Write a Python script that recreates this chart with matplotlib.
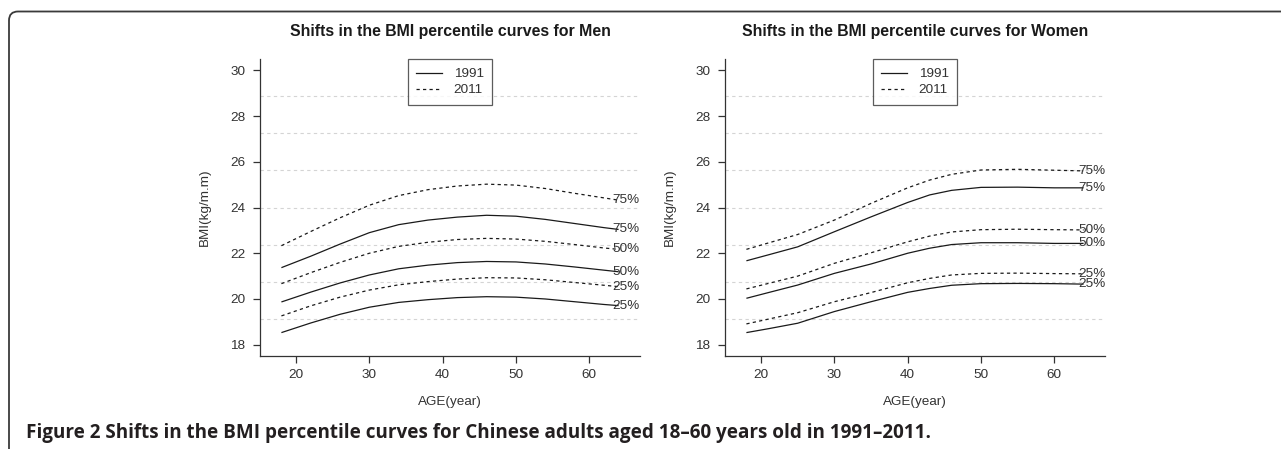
import matplotlib
matplotlib.use("Agg")
import matplotlib.pyplot as plt
from matplotlib.patches import FancyBboxPatch
from matplotlib.transforms import IdentityTransform
from matplotlib.lines import Line2D

plt.rcParams['font.family'] = ['Liberation Sans', 'DejaVu Sans']

# ---------------- data ----------------
men_age = [18, 22, 26, 30, 34, 38, 42, 46, 50, 54, 58, 62, 64]
men_1991_p75 = [21.37, 21.87, 22.40, 22.90, 23.25, 23.45, 23.58, 23.66, 23.62, 23.48, 23.30, 23.12, 23.04]
men_2011_p75 = [22.33, 22.95, 23.55, 24.10, 24.52, 24.78, 24.94, 25.02, 24.98, 24.83, 24.62, 24.42, 24.32]
men_1991_p50 = [19.87, 20.30, 20.70, 21.05, 21.32, 21.48, 21.59, 21.64, 21.62, 21.53, 21.40, 21.26, 21.19]
men_2011_p50 = [20.67, 21.15, 21.60, 22.00, 22.30, 22.48, 22.60, 22.65, 22.62, 22.52, 22.38, 22.23, 22.17]
men_1991_p25 = [18.53, 18.95, 19.33, 19.64, 19.85, 19.97, 20.06, 20.10, 20.08, 20.00, 19.88, 19.76, 19.71]
men_2011_p25 = [19.26, 19.70, 20.08, 20.39, 20.62, 20.76, 20.87, 20.93, 20.92, 20.84, 20.72, 20.60, 20.54]

women_age = [18, 21, 25, 30, 35, 40, 43, 46, 50, 55, 60, 64]
women_1991_p75 = [21.67, 21.93, 22.28, 22.94, 23.59, 24.22, 24.55, 24.75, 24.88, 24.89, 24.86, 24.86]
women_2011_p75 = [22.17, 22.45, 22.82, 23.45, 24.18, 24.86, 25.20, 25.45, 25.64, 25.67, 25.63, 25.60]
women_1991_p50 = [20.03, 20.28, 20.61, 21.12, 21.53, 22.00, 22.22, 22.38, 22.46, 22.46, 22.43, 22.43]
women_2011_p50 = [20.44, 20.68, 21.00, 21.56, 22.02, 22.50, 22.75, 22.93, 23.03, 23.05, 23.03, 23.02]
women_1991_p25 = [18.53, 18.70, 18.94, 19.45, 19.88, 20.29, 20.46, 20.60, 20.67, 20.68, 20.67, 20.65]
women_2011_p25 = [18.91, 19.12, 19.40, 19.88, 20.28, 20.71, 20.90, 21.05, 21.12, 21.13, 21.11, 21.10]

percentile_labels = ['75%', '50%', '25%']
legend_labels = ['1991', '2011']
x_ticks = [20, 30, 40, 50, 60]
y_ticks = [18, 20, 22, 24, 26, 28, 30]
titles = ['Shifts in the BMI percentile curves for Men',
          'Shifts in the BMI percentile curves for Women']
xlabel = 'AGE(year)'
ylabel = 'BMI(kg/m.m)'
caption = 'Figure 2 Shifts in the BMI percentile curves for Chinese adults aged 18\u201360 years old in 1991\u20132011.'

# ---------------- layout ----------------
W, H = 1281, 449
fig = plt.figure(figsize=(W / 100, H / 100), dpi=100)
renderer = fig.canvas.get_renderer()


def fit_size(sample, target_px, **kw):
    t = fig.text(0, 0, sample, fontsize=10, **kw)
    w = t.get_window_extent(renderer=renderer).width
    t.remove()
    return 10 * target_px / w


def px_axes(left, right, top, bottom):
    return fig.add_axes([left / W, 1 - bottom / H, (right - left) / W, (bottom - top) / H])

ax_m = px_axes(260, 640, 59.3, 355.7)
ax_w = px_axes(725, 1105, 59.3, 355.7)

DARK = '#333333'
LINE = '#1a1a1a'
FS = 9.7
TITLE_FS = fit_size('Shifts in the BMI percentile curve', 250, fontweight='bold')

panels = [
    (ax_m, men_age, [men_1991_p75, men_1991_p50, men_1991_p25],
     [men_2011_p75, men_2011_p50, men_2011_p25], 63.2, titles[0]),
    (ax_w, women_age, [women_1991_p75, women_1991_p50, women_1991_p25],
     [women_2011_p75, women_2011_p50, women_2011_p25], 63.3, titles[1]),
]

xlim = (15.08, 66.92)
ylim = (17.52, 30.48)

for ax, age, s1991, s2011, lab_x, title in panels:
    ax.set_xlim(*xlim)
    ax.set_ylim(*ylim)
    # R-like grid (ny = 8)
    step = (ylim[1] - ylim[0]) / 8
    for k in range(1, 8):
        ax.axhline(ylim[0] + k * step, color='#d4d4d4', lw=0.8,
                   dashes=(3, 3), zorder=0)
    for ser in s1991:
        ax.plot(age, ser, color=LINE, lw=0.9, solid_capstyle='butt')
    for ser in s2011:
        ax.plot(age, ser, color=LINE, lw=0.9, dashes=(2.6, 2.6))
    for ser, lab in zip(s2011, percentile_labels):
        ax.text(lab_x, ser[-1], lab, ha='left', va='center', fontsize=FS, color=DARK)
    for ser, lab in zip(s1991, percentile_labels):
        ax.text(lab_x, ser[-1], lab, ha='left', va='center', fontsize=FS, color=DARK)

    ax.set_xticks(x_ticks)
    ax.set_yticks(y_ticks)
    ax.tick_params(direction='out', length=5, width=0.9, color=DARK,
                   labelcolor=DARK, labelsize=FS)
    ax.tick_params(axis='y', pad=5.5)
    ax.tick_params(axis='x', pad=4.5)
    for sp in ['top', 'right']:
        ax.spines[sp].set_visible(False)
    for sp in ['left', 'bottom']:
        ax.spines[sp].set_color(DARK)
        ax.spines[sp].set_linewidth(0.9)
    ax.set_xlabel(xlabel, fontsize=FS, color=DARK)
    ax.xaxis.set_label_coords(0.5, -(401.7 - 355.7) / 296.4)
    ax.xaxis.label.set_va('center')
    ax.set_ylabel(ylabel, fontsize=FS, color=DARK)
    ax.yaxis.set_label_coords(-(260 - 205) / 380, 0.5)
    ax.yaxis.label.set_va('center')

    handles = [Line2D([], [], color=LINE, lw=0.9),
               Line2D([], [], color=LINE, lw=0.9, dashes=(2.6, 2.6))]
    leg = ax.legend(handles, legend_labels, loc='upper center', fontsize=FS,
                    frameon=True, fancybox=False, borderaxespad=0,
                    handlelength=1.9, handletextpad=0.85, labelspacing=0.25,
                    borderpad=0.65)
    leg.get_frame().set_edgecolor(DARK)
    leg.get_frame().set_linewidth(0.9)
    for t in leg.get_texts():
        t.set_color(DARK)

    pos = ax.get_position()
    fig.text((pos.x0 + pos.x1) / 2, 1 - 31.5 / H, title, ha='center', va='center',
             fontsize=TITLE_FS, fontweight='bold', color='#1a1a1a')

# frame around the figure (rounded top-left corner)
frame = FancyBboxPatch((9, -30), 1400, H - 11.5 + 30,
                       boxstyle='round,pad=0,rounding_size=9',
                       transform=IdentityTransform(), fill=False,
                       edgecolor='#3a3a3a', lw=1.3)
fig.add_artist(frame)

# caption
cap_kw = dict(fontweight='bold', family=['Open Sans', 'DejaVu Sans'])
cap_fs = fit_size(caption.split(' in 1991')[0], 804 - 26, **cap_kw)
fig.text(26 / W, 1 - 438 / H, caption, ha='left', va='baseline',
         fontsize=cap_fs, color='#231f20', **cap_kw)

fig.savefig('out.png', dpi=100)
